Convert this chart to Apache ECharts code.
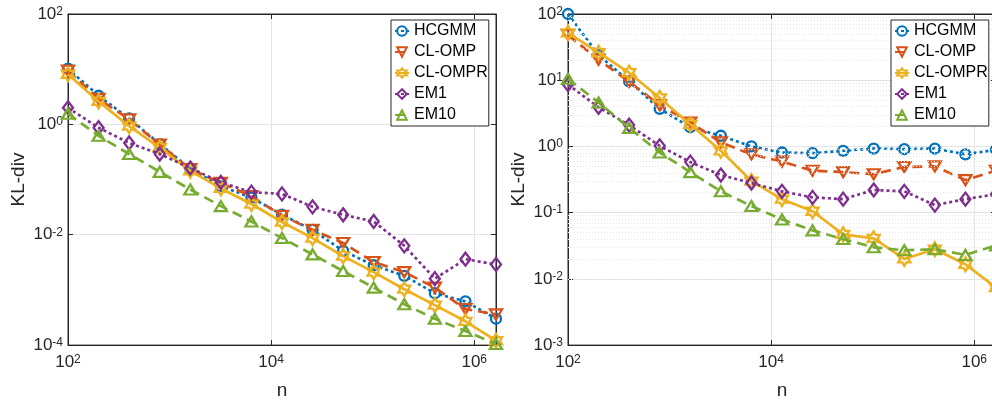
<!DOCTYPE html>
<html><head><meta charset="utf-8">
<script src="https://cdn.jsdelivr.net/npm/echarts@6/dist/echarts.min.js"></script>
<style>html,body{margin:0;padding:0;overflow:hidden;background:#fff}#c{width:1000px;height:405px}</style>
</head><body><div id="c"></div>
<script>
const nValues = [100,200,400,800,1600,3200,6400,12800,25600,51200,102400,204800,409600,819200,1638400];
const seriesNames = ['HCGMM','CL-OMP','CL-OMPR','EM1','EM10'];

const leftHCGMM = [10.2,3.3,1.28,0.44,0.158,0.076,0.047,0.023,0.0122,0.0051,0.0028,0.0018,0.00087,0.00062,0.0003];
const leftCLOMP = [9.4,2.9,1.23,0.43,0.155,0.087,0.05,0.022,0.0123,0.0071,0.0032,0.0021,0.0011,0.00045,0.00036];
const leftCLOMPR = [8.1,2.6,0.93,0.38,0.144,0.069,0.036,0.017,0.0087,0.0041,0.0021,0.00103,0.00053,0.00027,0.00012];
const leftEM1 = [2.0,0.87,0.46,0.29,0.162,0.089,0.059,0.055,0.032,0.023,0.0174,0.0063,0.0016,0.0036,0.0029];
const leftEM10 = [1.56,0.62,0.29,0.138,0.066,0.033,0.0174,0.0087,0.0044,0.0022,0.0011,0.00055,0.0003,0.00018,0.000105];

const rightHCGMM = [100,24,9.6,3.7,1.95,1.45,1.0,0.81,0.79,0.86,0.93,0.91,0.93,0.76,0.89];
const rightCLOMP = [48,20.4,9.5,4.2,2.3,1.15,0.76,0.59,0.43,0.41,0.38,0.49,0.5,0.31,0.43];
const rightCLOMPR = [52,26,13,5.4,2.15,0.86,0.30,0.16,0.105,0.047,0.041,0.020,0.028,0.0166,0.0074];
const rightEM1 = [8.6,3.9,2.1,1.02,0.58,0.37,0.28,0.21,0.17,0.16,0.22,0.21,0.13,0.16,0.19];
const rightEM10 = [10.5,4.6,1.9,0.81,0.41,0.21,0.126,0.079,0.054,0.040,0.030,0.027,0.028,0.023,0.032];

const FONT = '"Liberation Sans", Arial, Helvetica, sans-serif';
const TXT = '#262626';
const colors = ['#0072BD','#D95319','#EDB120','#7E2F8E','#77AC30'];
const HEX = 'path://M0,-10L2.887,-5L8.66,-5L5.774,0L8.66,5L2.887,5L0,10L-2.887,5L-8.66,5L-5.774,0L-8.66,-5L-2.887,-5Z';
const styles = [
  {symbol:'circle', size:10, rotate:0, type:[3,3]},
  {symbol:'triangle', size:[12,10], rotate:180, type:[10,6]},
  {symbol:HEX, size:14, rotate:0, type:'solid'},
  {symbol:'diamond', size:[10,13], rotate:0, type:[3,3]},
  {symbol:'triangle', size:[12,10], rotate:0, type:[10,6]}
];

const rich = {
  b:{fontSize:17, color:TXT, fontFamily:FONT, verticalAlign:'bottom', lineHeight:17},
  s:{fontSize:12, color:TXT, fontFamily:FONT, verticalAlign:'top', lineHeight:12, padding:[0,0,10,0]}
};
function fmt(v){ const e = Math.round(Math.log10(v)); return '{b|10}{s|' + e + '}'; }

const G = [{left:68, top:14, width:428, height:333}, {left:568, top:14, width:428, height:333}];
const yRanges = [{min:1e-4, max:100, interval:2}, {min:1e-3, max:100, interval:1}];

const xAxes = [], yAxes = [];
for (let g=0; g<2; g++){
  xAxes.push({type:'log', logBase:10, gridIndex:g, min:100, max:1638400, interval:2, position:'bottom',
    name:'n', nameLocation:'middle', nameGap:35, nameTextStyle:{fontSize:19, color:TXT, fontFamily:FONT},
    axisLine:{show:true, onZero:false, lineStyle:{color:TXT, width:1}},
    axisTick:{show:true, inside:true, length:5, lineStyle:{color:TXT}},
    axisLabel:{margin:9, formatter:fmt, rich:rich},
    splitLine:{show:true, lineStyle:{color:'#e3e3e3', width:1}}});
  yAxes.push({type:'log', logBase:10, gridIndex:g, min:yRanges[g].min, max:yRanges[g].max, interval:yRanges[g].interval, position:'left',
    name:'KL-div', nameLocation:'middle', nameGap:40, nameTextStyle:{fontSize:19, color:TXT, fontFamily:FONT},
    axisLine:{show:true, onZero:false, lineStyle:{color:TXT, width:1}},
    axisTick:{show:true, inside:true, length:5, lineStyle:{color:TXT}},
    axisLabel:{margin:5, formatter:fmt, rich:rich, align:'right'},
    splitLine:{show:true, lineStyle:{color:'#e3e3e3', width:1}}});
}
for (let g=0; g<2; g++){
  xAxes.push({type:'log', logBase:10, gridIndex:g, min:100, max:1638400, interval:2, position:'top',
    axisLine:{show:true, onZero:false, lineStyle:{color:TXT, width:1}},
    axisTick:{show:true, inside:true, length:5, lineStyle:{color:TXT}},
    axisLabel:{show:false}, splitLine:{show:false}});
  yAxes.push({type:'log', logBase:10, gridIndex:g, min:yRanges[g].min, max:yRanges[g].max, interval:yRanges[g].interval, position:'right',
    axisLine:{show:true, onZero:false, lineStyle:{color:TXT, width:1}},
    axisTick:{show:true, inside:true, length:5, lineStyle:{color:TXT}},
    axisLabel:{show:false}, splitLine:{show:false}});
}

// minor grid lines for right plot (grid styling)
const minorVals = [];
for (let e=-3; e<=1; e++) for (let m=2; m<=9; m++) minorVals.push(m*Math.pow(10,e));

const series = [{
  name:'_minor', type:'line', xAxisIndex:1, yAxisIndex:1, data:[], silent:true, z:1,
  markLine:{silent:true, symbol:['none','none'], label:{show:false}, animation:false,
    lineStyle:{color:'#e6e6e6', type:[1,2], width:1},
    data: minorVals.map(v=>({yAxis:v}))}
}];
const plotData = [[leftHCGMM,leftCLOMP,leftCLOMPR,leftEM1,leftEM10],[rightHCGMM,rightCLOMP,rightCLOMPR,rightEM1,rightEM10]];
for (let g=0; g<2; g++){
  for (let i=0; i<5; i++){
    const st = styles[i];
    series.push({name:seriesNames[i], type:'line', xAxisIndex:g, yAxisIndex:g,
      data: nValues.map((n,k)=>[n, plotData[g][i][k]]),
      symbol:st.symbol, symbolSize:st.size, symbolRotate:st.rotate, symbolKeepAspect:true,
      showSymbol:true, showAllSymbol:true, clip:false, z:3+i,
      lineStyle:{color:colors[i], width:2.7, type:st.type, cap:'butt'},
      itemStyle:{color:'rgba(255,255,255,0)', borderColor:colors[i], borderWidth:2.3},
      emphasis:{disabled:true}});
  }
}

const legendBase = {orient:'vertical', top:20, data:seriesNames, selectedMode:false, z:50,
  itemWidth:14, itemHeight:12, itemGap:1, symbolRotate:'inherit',
  padding:[1,1,1,3], borderColor:TXT, borderWidth:1, backgroundColor:'#fff',
  textStyle:{fontSize:16, lineHeight:20, color:'#000', fontFamily:FONT}};

const chart = echarts.init(document.getElementById('c'), null, {renderer:'canvas'});
chart.setOption({
  animation:false,
  textStyle:{fontFamily:FONT},
  grid: G.map(g=>Object.assign({show:true, borderColor:TXT, borderWidth:1, backgroundColor:'#fff'}, g)),
  xAxis:xAxes, yAxis:yAxes,
  legend:[Object.assign({left:391}, legendBase), Object.assign({left:891}, legendBase)],
  series:series
});
</script></body></html>
